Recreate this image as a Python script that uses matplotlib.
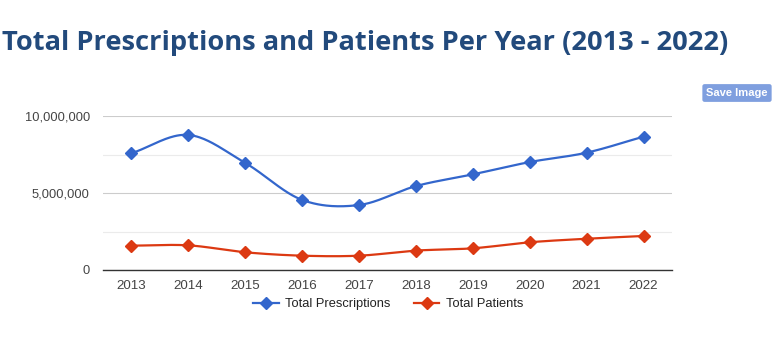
import numpy as np
import matplotlib
matplotlib.use("Agg")
import matplotlib.pyplot as plt
from matplotlib.ticker import FuncFormatter, MultipleLocator

years = [2013, 2014, 2015, 2016, 2017, 2018, 2019, 2020, 2021, 2022]
prescriptions = [7580000, 8770000, 6950000, 4550000, 4220000, 5450000, 6210000, 7010000, 7620000, 8660000]
patients = [1580000, 1600000, 1150000, 930000, 930000, 1260000, 1410000, 1800000, 2030000, 2210000]

title = "Total Prescriptions and Patients Per Year (2013 - 2022)"
series_names = ["Total Prescriptions", "Total Patients"]
colors = ["#3366cc", "#dc3912"]


def smooth(x, y, n=40):
    x = np.asarray(x, float)
    y = np.asarray(y, float)
    m = np.zeros_like(y)
    m[1:-1] = (y[2:] - y[:-2]) / (x[2:] - x[:-2])
    m[0] = (y[1] - y[0]) / (x[1] - x[0])
    m[-1] = (y[-1] - y[-2]) / (x[-1] - x[-2])
    xs, ys = [], []
    for i in range(len(x) - 1):
        h = x[i + 1] - x[i]
        t = np.linspace(0, 1, n, endpoint=(i == len(x) - 2))
        h00 = 2 * t**3 - 3 * t**2 + 1
        h10 = t**3 - 2 * t**2 + t
        h01 = -2 * t**3 + 3 * t**2
        h11 = t**3 - t**2
        xs.append(x[i] + t * h)
        ys.append(h00 * y[i] + h10 * h * m[i] + h01 * y[i + 1] + h11 * h * m[i + 1])
    return np.concatenate(xs), np.concatenate(ys)


fig = plt.figure(figsize=(7.79, 3.47), dpi=100)
ax = fig.add_axes([103 / 779, 1 - 270 / 347, (672 - 103) / 779, (270 - 116) / 347])

handles = []
for vals, c, name in zip([prescriptions, patients], colors, series_names):
    sx, sy = smooth(years, vals)
    ax.plot(sx, sy, color=c, lw=1.6, zorder=3)
    ax.plot(years, vals, ls="none", marker="D", ms=6.5, color=c, zorder=4)
    h, = ax.plot([], [], color=c, lw=1.6, marker="D", ms=6.5, label=name)
    handles.append(h)

ax.set_xlim(2012.5, 2022.5)
ax.set_ylim(0, 10000000)
ax.set_xticks(years)
ax.set_xticklabels([str(y) for y in years])
ax.yaxis.set_major_locator(MultipleLocator(5000000))
ax.yaxis.set_minor_locator(MultipleLocator(2500000))
ax.yaxis.set_major_formatter(FuncFormatter(lambda v, p: f"{int(v):,}"))
ax.grid(True, which="major", axis="y", color="#cccccc", lw=0.8)
ax.grid(True, which="minor", axis="y", color="#ebebeb", lw=0.8)
ax.set_axisbelow(True)
for s in ["top", "right", "left"]:
    ax.spines[s].set_visible(False)
ax.spines["bottom"].set_color("#333333")
ax.spines["bottom"].set_linewidth(1.0)
ax.tick_params(axis="x", which="both", length=0, labelsize=9.6, labelcolor="#444444",
               labelfontfamily="Liberation Sans", pad=7)
ax.tick_params(axis="y", which="both", length=0, labelsize=9.3, labelcolor="#444444",
               labelfontfamily="Liberation Sans", pad=9.5)

fig.text(0.002, 1 - 50 / 347, title, fontsize=19.6, fontweight="bold", color="#224a7c",
         family="Open Sans", ha="left", va="baseline")

fig.text(737 / 779, 1 - 93 / 347, "Save Image", fontsize=8, fontweight="bold", color="white",
         family="Liberation Sans", ha="center", va="center",
         bbox=dict(boxstyle="round,pad=0.35,rounding_size=0.2", fc="#7f9fdf", ec="none"))

leg = fig.legend(handles=handles, loc="center", bbox_to_anchor=(388 / 779, 1 - 304 / 347), ncol=2,
                 frameon=False, handlelength=2.0, columnspacing=1.8, handletextpad=0.5,
                 prop=dict(family="Liberation Sans", size=9.3))
for t in leg.get_texts():
    t.set_color("#222222")

fig.savefig("out.png", dpi=100, facecolor="white")
